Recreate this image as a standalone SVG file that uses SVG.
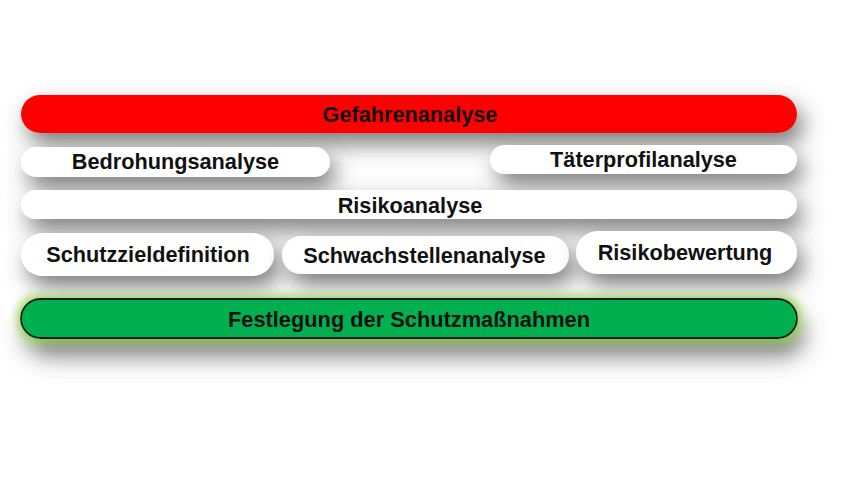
<svg xmlns="http://www.w3.org/2000/svg" width="848" height="477" viewBox="0 0 848 477">
<defs>
<filter id="sh" x="-10%" y="-100%" width="125%" height="340%">
<feGaussianBlur in="SourceAlpha" stdDeviation="11" result="b0"/>
<feOffset in="b0" dx="6" dy="11" result="b1"/>
<feFlood flood-color="#505050" flood-opacity="0.75"/>
<feComposite in2="b1" operator="in" result="shadow"/>
<feMerge><feMergeNode in="shadow"/><feMergeNode in="SourceGraphic"/></feMerge>
</filter>
<filter id="glow" x="-10%" y="-120%" width="125%" height="380%">
<feGaussianBlur in="SourceAlpha" stdDeviation="12" result="b0"/>
<feOffset in="b0" dx="6" dy="16" result="b1"/>
<feFlood flood-color="#505050" flood-opacity="0.8"/>
<feComposite in2="b1" operator="in" result="shadow"/>
<feMorphology in="SourceAlpha" operator="dilate" radius="3" result="d"/>
<feGaussianBlur in="d" stdDeviation="4" result="db"/>
<feFlood flood-color="#92d050" flood-opacity="0.8"/>
<feComposite in2="db" operator="in" result="g"/>
<feMerge><feMergeNode in="shadow"/><feMergeNode in="g"/><feMergeNode in="SourceGraphic"/></feMerge>
</filter>
</defs>
<style>
.box{fill:#ffffff;filter:url(#sh)}
.t{font-family:"Liberation Sans",Arial,sans-serif;font-weight:bold;font-size:21.7px;fill:#111111;text-anchor:middle}
</style>
<rect width="848" height="477" fill="#ffffff"/>
<g id="gefahrenanalyse">
<rect x="21" y="95" width="776" height="38" rx="19" fill="#ff0000" filter="url(#sh)"/>
<text class="t" x="410" y="122">Gefahrenanalyse</text>
</g>
<g id="bedrohungsanalyse">
<rect class="box" x="21" y="147" width="309" height="30" rx="15"/>
<text class="t" x="175.5" y="169">Bedrohungsanalyse</text>
</g>
<g id="taeterprofilanalyse">
<rect class="box" x="490" y="145" width="307" height="29" rx="14.5"/>
<text class="t" x="643.5" y="167">Täterprofilanalyse</text>
</g>
<g id="risikoanalyse">
<rect class="box" x="21" y="190" width="776" height="29" rx="14.5"/>
<text class="t" x="410" y="213">Risikoanalyse</text>
</g>
<g id="schutzzieldefinition">
<rect class="box" x="21" y="233" width="253" height="43" rx="21.5"/>
<text class="t" x="148" y="262">Schutzzieldefinition</text>
</g>
<g id="schwachstellenanalyse">
<rect class="box" x="282" y="236" width="287" height="38" rx="19"/>
<text class="t" x="424.5" y="263">Schwachstellenanalyse</text>
</g>
<g id="risikobewertung">
<rect class="box" x="576" y="231" width="221" height="43" rx="21.5"/>
<text class="t" x="685" y="260">Risikobewertung</text>
</g>
<g id="festlegung">
<rect x="21" y="299" width="776" height="39" rx="19.5" fill="#00b050" stroke="#1a1a1a" stroke-width="1.8" filter="url(#glow)"/>
<text class="t" x="409" y="327" font-size="23" textLength="362" lengthAdjust="spacingAndGlyphs">Festlegung der Schutzmaßnahmen</text>
</g>
<g id="connectors"/>
</svg>
